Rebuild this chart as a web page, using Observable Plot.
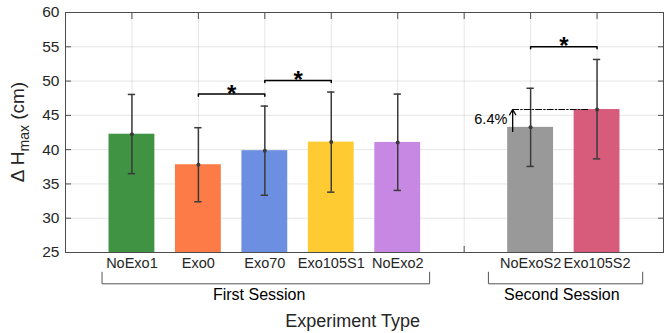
<!DOCTYPE html>
<html><head><meta charset="utf-8">
<script src="https://cdn.jsdelivr.net/npm/d3@7"></script>
<script src="https://cdn.jsdelivr.net/npm/@observablehq/plot@0.6"></script>
<style>body{margin:0;background:#fff}</style>
</head><body><div id="chart"></div>
<script>
// ---- data ----
const categories = ["NoExo1","Exo0","Exo70","Exo105S1","NoExo2","NoExoS2","Exo105S2"];
const positions  = [1,2,3,4,5,7,8];
const means      = [42.25, 37.8, 39.85, 41.1, 41.05, 43.25, 45.85];
const errLow     = [36.5, 32.4, 33.35, 33.8, 34.05, 37.55, 38.65];
const errHigh    = [48.05, 43.2, 46.35, 48.4, 48.1, 48.95, 53.15];
const colors     = ["#3f9342","#fd7b46","#6d8fe1","#fecb33","#c688e3","#999999","#d75c7c"];
const yTicks     = [25,30,35,40,45,50,55,60];
const xTickPos   = [1,2,3,4,5,6,7,8];
const sigFrom    = [2,3,7];
const sigTo      = [3,4,8];
const sigLevel   = [48.1,50.1,55.0];
const groupNames = ["First Session","Second Session"];
const groupFrom  = [0.55,6.365];
const groupTo    = [5.48,8.687];
const groupTextX = [2.915,7.47];
const pctText    = "6.4%";
const pctArrowX  = 6.73;
const pctArrowFrom = 42.65;
const pctLineTo  = 7.88;

const rows = categories.map((c,i)=>({cat:c,pos:positions[i],mean:means[i],lo:errLow[i],hi:errHigh[i],color:colors[i]}));
const sigs = sigFrom.map((a,i)=>({a,b:sigTo[i],y:sigLevel[i]}));
const groups = groupNames.map((g,i)=>({g,a:groupFrom[i],b:groupTo[i],tx:groupTextX[i]}));

const W=668,H=333,mt=12,mb=81,ml=65,mr=5;
const yMin=25,yMax=60;
const pxPerUnit=(H-mt-mb)/(yMax-yMin);
const below=px=>yMin-px/pxPerUnit;
const halfBar=0.345, halfCap=0.055, drop=0.3;
const topVal = means[6];

const sigPts = sigs.flatMap((s,i)=>[
  {x:s.a,y:s.y-drop,k:i},{x:s.a,y:s.y,k:i},{x:s.b,y:s.y,k:i},{x:s.b,y:s.y-drop,k:i}]);
const grpPts = groups.flatMap((g,i)=>[
  {x:g.a,y:below(19.7),k:i},{x:g.a,y:below(31.3),k:i},{x:g.b,y:below(31.3),k:i},{x:g.b,y:below(19.7),k:i}]);

const ink="#262626", err="#3a3a3a";
const plot = Plot.plot({
  width:W,height:H,marginLeft:ml,marginRight:mr,marginTop:mt,marginBottom:mb,
  style:{fontFamily:"'Liberation Sans', Arial, sans-serif",fontSize:"14.5px",color:ink,background:"#fff",overflow:"visible"},
  x:{domain:[0,9]},
  y:{domain:[yMin,yMax]},
  color:{type:"identity"},
  marks:[
    Plot.gridY(yTicks,{stroke:"#000",strokeOpacity:0.1}),
    Plot.gridX(xTickPos,{stroke:"#000",strokeOpacity:0.1}),
    Plot.axisY({anchor:"right",ticks:yTicks,tickSize:-6,tickFormat:()=>"",label:null,stroke:"#4d4d4d"}),
    Plot.axisX({anchor:"top",ticks:xTickPos,tickSize:-6,tickFormat:()=>"",label:null,stroke:"#4d4d4d"}),
    Plot.axisX({anchor:"bottom",ticks:xTickPos,tickSize:-6,tickFormat:()=>"",label:null,stroke:"#4d4d4d"}),
    Plot.axisY({anchor:"left",ticks:yTicks,tickSize:-6,tickPadding:12,label:null,stroke:"#4d4d4d",fontSize:15.5}),
    Plot.rect(rows,{x1:d=>d.pos-halfBar,x2:d=>d.pos+halfBar,y1:yMin,y2:"mean",fill:"color"}),
    Plot.frame({stroke:"#4d4d4d"}),
    Plot.axisX({anchor:"bottom",ticks:positions,tickFormat:i=>categories[positions.indexOf(i)],tickSize:0,tickPadding:5.5,label:null,fontSize:14.5}),
    Plot.ruleX(rows,{x:"pos",y1:"lo",y2:"hi",stroke:err,strokeWidth:1.5}),
    Plot.ruleY(rows,{y:"hi",x1:d=>d.pos-halfCap,x2:d=>d.pos+halfCap,stroke:err,strokeWidth:1.5}),
    Plot.ruleY(rows,{y:"lo",x1:d=>d.pos-halfCap,x2:d=>d.pos+halfCap,stroke:err,strokeWidth:1.5}),
    Plot.dot(rows,{x:"pos",y:"mean",r:2,fill:err}),
    // significance brackets
    Plot.line(sigPts,{x:"x",y:"y",z:"k",stroke:"#000",strokeWidth:1.5}),
    Plot.text(sigs,{x:d=>(d.a+d.b)/2,y:"y",text:()=>"*",fontSize:24,fontWeight:"bold",fill:"#000",dy:0}),
    // percent annotation
    Plot.line([{x:pctArrowX,y:topVal},{x:pctLineTo,y:topVal}],{x:"x",y:"y",stroke:"#000",strokeWidth:1,strokeDasharray:"6,2,1.5,2"}),
    Plot.arrow([0],{x1:pctArrowX,x2:pctArrowX,y1:pctArrowFrom,y2:topVal,stroke:"#000",strokeWidth:1.3,headLength:7}),
    Plot.text([pctText],{x:pctArrowX-0.08,y:(pctArrowFrom+topVal)/2+0.2,text:d=>d,textAnchor:"end",fontSize:14.5,fill:"#000"}),
    // group brackets
    Plot.line(grpPts,{x:"x",y:"y",z:"k",stroke:"#555",strokeWidth:1}),
    Plot.text(groups,{x:"tx",y:below(42.2),text:"g",fontSize:16,fill:"#000"}),
    Plot.text(["Experiment Type"],{x:4.32,y:below(69.2),text:d=>d,fontSize:18,fill:ink})
  ]
});
document.getElementById("chart").appendChild(plot);

// y-axis title with subscript
const svg = d3.select(plot);
const t = svg.append("text")
  .attr("transform",`translate(24,${(mt+H-mb)/2}) rotate(-90)`)
  .attr("text-anchor","middle")
  .attr("font-family","'Liberation Sans', Arial, sans-serif")
  .attr("font-size",19).attr("fill",ink);
t.append("tspan").text("Δ H");
t.append("tspan").attr("font-size",14).attr("dy",5).text("max");
t.append("tspan").attr("dy",-5).text(" (cm)");
</script>
</body></html>
